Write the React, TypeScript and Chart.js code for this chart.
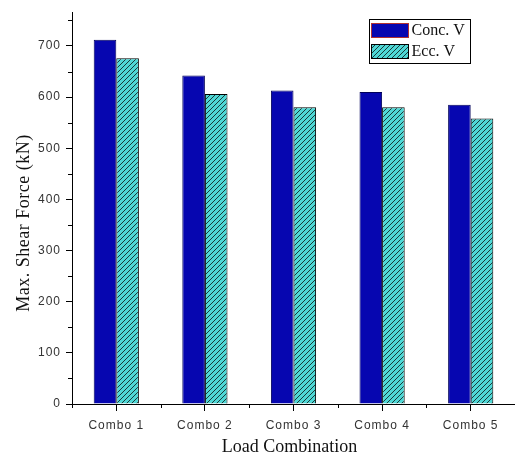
import React, { useEffect, useRef } from "react";
import { Chart, registerables } from "chart.js";

Chart.register(...registerables);

const categories = ["Combo 1", "Combo 2", "Combo 3", "Combo 4", "Combo 5"];
const concV = [712, 642, 613, 610, 585];
const eccV = [676, 606, 580, 580, 558];
const seriesNames = ["Conc. V", "Ecc. V"];
const xTitle = "Load Combination";
const yTitle = "Max. Shear Force (kN)";
const yTickValues = [0, 100, 200, 300, 400, 500, 600, 700];
const yMinorValues = [50, 150, 250, 350, 450, 550, 650, 750];

const CONC_FILL = "#0606b0";
const CONC_EDGE = "#00005a";
const ECC_FILL = "#4fd8d6";
const ECC_EDGE = "#000000";
const SERIF = "'Liberation Serif', 'Times New Roman', serif";
const SANS = "'Liberation Sans', Arial, sans-serif";

// Diagonal "////" hatching over a cyan fill
function makeHatch(): CanvasPattern | string {
  const size = 5;
  const c = document.createElement("canvas");
  c.width = size;
  c.height = size;
  const g = c.getContext("2d");
  if (!g) return ECC_FILL;
  g.fillStyle = ECC_FILL;
  g.fillRect(0, 0, size, size);
  g.strokeStyle = "#1a3a3a";
  g.lineWidth = 1;
  g.beginPath();
  g.moveTo(0, size);
  g.lineTo(size, 0);
  g.moveTo(-1, 1);
  g.lineTo(1, -1);
  g.moveTo(size - 1, size + 1);
  g.lineTo(size + 1, size - 1);
  g.stroke();
  return g.createPattern(c, "repeat") || ECC_FILL;
}

// Slightly spaced tick lettering; reset later for titles and legend
const spacingPlugin = {
  id: "spacing",
  beforeDraw(chart: any) {
    (chart.ctx as any).letterSpacing = "1px";
  },
};

// Minor tick marks, axis titles and the boxed legend in the upper right
const decorPlugin = {
  id: "decor",
  afterDraw(chart: any) {
    const { ctx, scales, chartArea } = chart;
    const x = scales.x;
    const y = scales.y;
    ctx.save();
    (ctx as any).letterSpacing = "0px";
    ctx.strokeStyle = "#000";
    ctx.lineWidth = 1;
    ctx.beginPath();
    for (const v of yMinorValues) {
      const py = Math.round(y.getPixelForValue(v)) + 0.5;
      if (py < chartArea.top) continue;
      ctx.moveTo(chartArea.left, py);
      ctx.lineTo(chartArea.left - 4, py);
    }
    const n = categories.length;
    for (let i = 0; i <= n; i++) {
      const px = Math.round(x.getPixelForValue(i - 0.5)) + 0.5;
      ctx.moveTo(px, chartArea.bottom);
      ctx.lineTo(px, chartArea.bottom + 4);
    }
    ctx.stroke();

    // axis titles
    ctx.fillStyle = "#111";
    ctx.textAlign = "center";
    ctx.textBaseline = "middle";
    ctx.font = `18px ${SERIF}`;
    ctx.fillText(xTitle, (chartArea.left + chartArea.right) / 2 - 4, 447);
    ctx.save();
    ctx.translate(24, 223);
    ctx.rotate(-Math.PI / 2);
    (ctx as any).letterSpacing = "0.5px";
    ctx.fillText(yTitle, 0, 0);
    ctx.restore();

    // legend
    const bx = 369.5;
    const by = 19.5;
    const bw = 101;
    const bh = 44;
    ctx.fillStyle = "#fff";
    ctx.fillRect(bx, by, bw, bh);
    ctx.strokeStyle = "#000";
    ctx.strokeRect(bx, by, bw, bh);
    const sw = 37;
    const shh = 14;
    const sx = bx + 2;
    ctx.fillStyle = CONC_FILL;
    ctx.fillRect(sx, by + 4, sw, shh);
    ctx.strokeStyle = "#b03030";
    ctx.strokeRect(sx, by + 4, sw, shh);
    ctx.fillStyle = chart.data.datasets[1].backgroundColor;
    ctx.fillRect(sx, by + 25, sw, shh);
    ctx.strokeStyle = ECC_EDGE;
    ctx.strokeRect(sx, by + 25, sw, shh);
    ctx.fillStyle = "#111";
    ctx.font = `16px ${SERIF}`;
    ctx.textAlign = "left";
    ctx.fillText(seriesNames[0], sx + sw + 3, by + 11);
    ctx.fillText(seriesNames[1], sx + sw + 3, by + 32);
    ctx.restore();
  },
};

export default function App() {
  const ref = useRef<HTMLCanvasElement>(null);

  useEffect(() => {
    if (!ref.current) return;
    const hatch = makeHatch();
    const chart = new Chart(ref.current, {
      type: "bar",
      data: {
        labels: categories,
        datasets: [
          {
            label: seriesNames[0],
            data: concV,
            backgroundColor: CONC_FILL,
            borderColor: CONC_EDGE,
            borderWidth: 1,
          },
          {
            label: seriesNames[1],
            data: eccV,
            backgroundColor: hatch as any,
            borderColor: ECC_EDGE,
            borderWidth: 1,
          },
        ],
      },
      options: {
        animation: false,
        responsive: false,
        maintainAspectRatio: false,
        layout: { padding: { top: 10, right: 0, left: 0, bottom: 0 } },
        plugins: {
          legend: { display: false },
          tooltip: { enabled: false },
        },
        datasets: {
          bar: { barPercentage: 1, categoryPercentage: 0.51 },
        },
        scales: {
          x: {
            grid: {
              display: true,
              drawOnChartArea: false,
              offset: false,
              tickLength: 7,
              color: "#000",
            },
            border: { display: true, color: "#000", width: 1 },
            ticks: {
              color: "#333",
              padding: 7,
              font: { family: SANS, size: 12 },
              maxRotation: 0,
            },
            afterFit(scale: any) {
              scale.height = 54;
            },
          },
          y: {
            min: 0,
            max: 766,
            grid: {
              display: true,
              drawOnChartArea: false,
              tickLength: 6,
              color: "#000",
            },
            border: { display: true, color: "#000", width: 1 },
            ticks: {
              stepSize: 100,
              color: "#333",
              padding: 5,
              font: { family: SANS, size: 12 },
            },
            afterBuildTicks(scale: any) {
              scale.ticks = yTickValues.map((v) => ({ value: v }));
            },
            afterFit(scale: any) {
              scale.width = 72;
            },
          },
        },
      },
      plugins: [spacingPlugin, decorPlugin],
    });
    return () => chart.destroy();
  }, []);

  return (
    <div style={{ position: "absolute", left: 0, top: 0, width: 515, height: 458, background: "#fff" }}>
      <canvas ref={ref} width={515} height={458} style={{ display: "block" }} />
    </div>
  );
}
